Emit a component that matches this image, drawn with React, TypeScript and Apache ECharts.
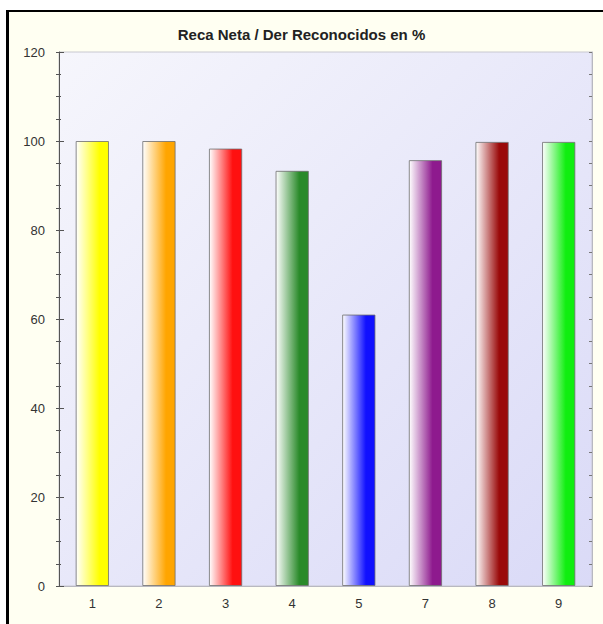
import React, { useEffect, useRef } from "react";
import * as echarts from "echarts";

const categories = ["1", "2", "3", "4", "5", "7", "8", "9"];
const values = [100, 100, 98.3, 93.3, 61.0, 95.7, 99.8, 99.8];
const barColors = ["#ffff00", "#ffa500", "#ff1010", "#2a8a2a", "#1010ff", "#8e1a8e", "#9a0a0a", "#10ee10"];
const titleText = "Reca Neta / Der Reconocidos en %";

const FONT = "'Liberation Sans', Arial, sans-serif";

export default function App() {
  const ref = useRef<HTMLDivElement>(null);
  useEffect(() => {
    if (!ref.current) return;
    const chart = echarts.init(ref.current, null, { renderer: "svg" });
    const grad = (c: string) =>
      new echarts.graphic.LinearGradient(0, 0, 1, 0, [
        { offset: 0, color: "#ffffff" },
        { offset: 0.72, color: c },
        { offset: 1, color: c },
      ]);
    const yBase = { type: "value", min: 0, max: 120, interval: 20 };
    chart.setOption({
      animation: false,
      backgroundColor: "transparent",
      graphic: [
        { type: "rect", z: -10, shape: { x: 6, y: 10, width: 600, height: 620 }, style: { fill: "#fffff2" } },
        { type: "rect", z: -9, shape: { x: 6, y: 10, width: 3, height: 620 }, style: { fill: "#000" } },
        { type: "rect", z: -9, shape: { x: 6, y: 10, width: 600, height: 2 }, style: { fill: "#000" } },
      ],
      title: {
        text: titleText,
        left: "center",
        top: 22,
        textStyle: { fontFamily: FONT, fontSize: 15, fontWeight: "bold", color: "#222" },
      },
      grid: {
        left: 59,
        right: 11,
        top: 52,
        bottom: 38,
        show: true,
        borderColor: "#c8c8d0",
        borderWidth: 1,
        backgroundColor: new echarts.graphic.LinearGradient(0, 0, 1, 1, [
          { offset: 0, color: "#f6f6fc" },
          { offset: 1, color: "#dadaf7" },
        ]),
      },
      xAxis: [
        {
          type: "category",
          data: categories,
          position: "bottom",
          axisLine: { lineStyle: { color: "#555" } },
          axisTick: { alignWithLabel: true, length: 4, lineStyle: { color: "#555" } },
          axisLabel: { margin: 11, fontFamily: FONT, fontSize: 13, color: "#333" },
        },
        {
          type: "category",
          data: categories,
          position: "bottom",
          axisLine: { show: false },
          axisTick: { alignWithLabel: true, inside: true, length: 4, lineStyle: { color: "#555" } },
          axisLabel: { show: false },
        },
        {
          type: "category",
          data: categories,
          position: "top",
          axisLine: { lineStyle: { color: "#b8b8c0" } },
          axisTick: { alignWithLabel: true, inside: true, length: 5, lineStyle: { color: "#777" } },
          axisLabel: { show: false },
        },
      ],
      yAxis: [
        {
          ...yBase,
          position: "left",
          axisLine: { show: true, lineStyle: { color: "#555" } },
          axisTick: { show: true, length: 3, lineStyle: { color: "#555" } },
          minorTick: { show: true, splitNumber: 4, length: 3, lineStyle: { color: "#555" } },
          splitLine: { show: false },
          axisLabel: { margin: 14, fontFamily: FONT, fontSize: 13, color: "#333" },
        },
        {
          ...yBase,
          position: "left",
          axisLine: { show: false },
          axisTick: { show: true, inside: true, length: 5, lineStyle: { color: "#555" } },
          minorTick: { show: true, splitNumber: 4, length: 2, lineStyle: { color: "#555" } },
          splitLine: { show: false },
          axisLabel: { show: false },
        },
        {
          ...yBase,
          position: "right",
          axisLine: { show: true, lineStyle: { color: "#b8b8c0" } },
          axisTick: { show: true, inside: true, length: 3, lineStyle: { color: "#777" } },
          minorTick: { show: true, splitNumber: 4, length: 3, lineStyle: { color: "#777" } },
          splitLine: { show: false },
          axisLabel: { show: false },
        },
      ],
      series: [
        {
          type: "bar",
          xAxisIndex: 0,
          yAxisIndex: 0,
          barWidth: "50%",
          data: values.map((v, i) => ({
            value: v,
            itemStyle: {
              color: grad(barColors[i]),
              borderColor: "rgba(110,110,110,0.8)",
              borderWidth: 1,
            },
          })),
        },
      ],
    });
    return () => chart.dispose();
  }, []);
  return (
    <div
      ref={ref}
      style={{ position: "fixed", left: 0, top: 0, width: 603, height: 624, background: "#fff" }}
    />
  );
}
